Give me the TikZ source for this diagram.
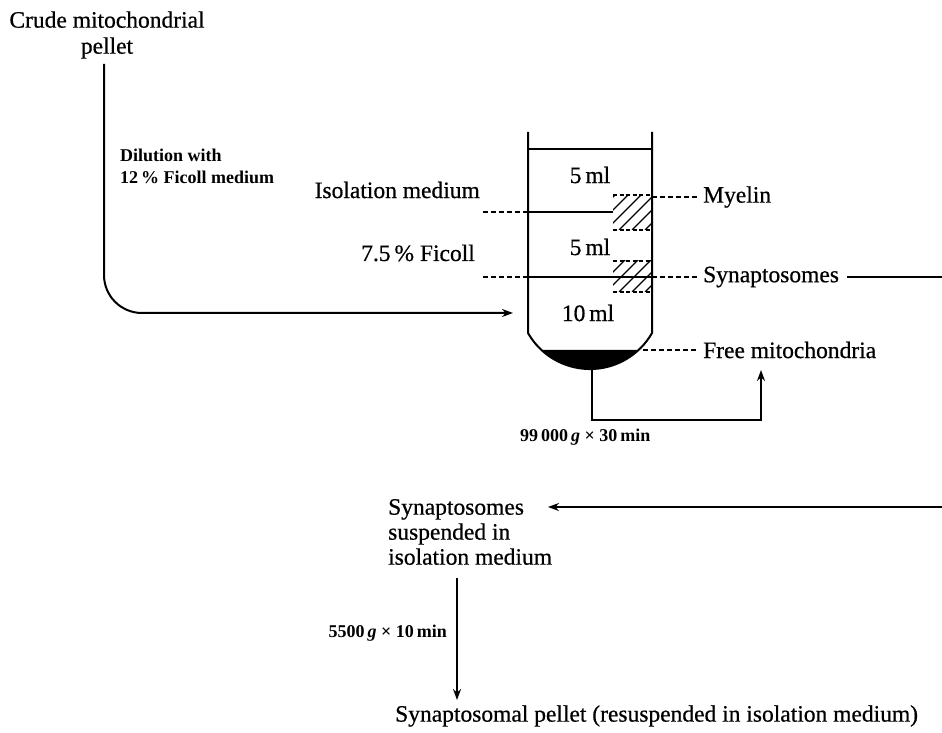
\documentclass[tikz,border=0pt]{standalone}
\usepackage{fontspec}
\setmainfont{Liberation Serif}
\newfontfamily\heavy{Liberation Serif}[FakeBold=0.6]
\usetikzlibrary{arrows.meta}
\begin{document}
\begin{tikzpicture}[x=1pt,y=1pt,
  lbl/.style={font=\heavy\fontsize{23.5}{26}\selectfont, inner sep=0pt},
  sml/.style={font=\fontsize{18}{22}\selectfont\bfseries, inner sep=0pt},
  ln/.style={line width=2pt},
  dsh/.style={line width=1.5pt, dash pattern=on 5pt off 3pt},
  hdsh/.style={line width=1.4pt, dash pattern=on 4pt off 2.5pt},
  hat/.style={line width=1.4pt},
  arr/.style={ln, -{Stealth[length=11pt,width=8pt]}}]
\useasboundingbox (0,0) rectangle (942,733);

% texts
\node[lbl, align=center] (crude) at (107,698) {Crude mitochondrial\\pellet};
\node[sml, align=left, anchor=west] (dil) at (120,567) {Dilution with\\12\,\% Ficoll medium};
\node[lbl, anchor=east] (iso) at (480,543) {Isolation medium};
\node[lbl, anchor=east] (fic) at (475,480) {7.5\,\% Ficoll};
\node[lbl] (v1) at (590,558) {5\,ml};
\node[lbl] (v2) at (590,486) {5\,ml};
\node[lbl] (v3) at (588,420) {10\,ml};
\node[lbl, anchor=west] (myelin) at (703,536) {Myelin};
\node[lbl, anchor=west] (syn) at (703,456) {Synaptosomes};
\node[lbl, anchor=west] (free) at (703,383) {Free mitochondria};
\node[sml, anchor=west] (g1) at (520,296) {99\,000\,\textit{g} × 30\,min};
\node[lbl, align=left, anchor=west, font=\heavy\fontsize{23.5}{25}\selectfont] (susp) at (388,201) {Synaptosomes\\suspended in\\isolation medium};
\node[sml, anchor=east] (g2) at (447,100) {5500\,\textit{g} × 10\,min};
\node[lbl, anchor=west] (final) at (395,17) {Synaptosomal pellet (resuspended in isolation medium)};

% coordinates
\coordinate (cstart) at (104,669);
\coordinate (tubein) at (513,420);
\coordinate (pb) at (592,364);
\coordinate (fmtip) at (761,363);
\coordinate (redge1) at (942,456);
\coordinate (redge2) at (942,226);
\coordinate (stip) at (548,226);
\coordinate (vstart) at (457,155);
\coordinate (vend) at (457,33);

% tube
\draw[ln] (528,601) -- (528,400) arc[start angle=209.7, end angle=330.3, radius=71.4] -- (652,601);
\draw[ln] (528,584) -- (652,584);
\fill (541.5,383) arc[start angle=227.2, end angle=312.8, radius=71.4] -- cycle;

% interfaces
\draw[dsh] (483,521) -- (528,521);
\draw[ln] (528,521) -- (613,521);
\draw[dsh] (483,456) -- (528,456);
\draw[ln] (528,456) -- (652,456);

% hatched bands
\foreach \ya/\yb in {503/538, 441/472}{
  \draw[hdsh] (613,\yb) -- (652,\yb);
  \draw[hdsh] (613,\ya) -- (652,\ya);
  \begin{scope}
    \clip (613,\ya) rectangle (652,\yb);
    \foreach \s in {580,593,...,660}{
      \draw[hat] (\s,\ya) -- ++(40,40);
    }
  \end{scope}
}

% label leaders
\draw[dsh] (652,536) -- ([xshift=-5pt]myelin.west);
\draw[dsh] (652,456) -- ([xshift=-5pt]syn.west);
\draw[dsh] (643,383) -- ([xshift=-5pt]free.west);

% connectors
\draw[arr, rounded corners=38pt] (cstart) |- (tubein);
\draw[arr] (pb) |- (761,313) -- (fmtip);
\draw[ln] ([xshift=8pt]syn.east) -- (redge1);
\draw[arr] (redge2) -- (stip);
\draw[arr] (vstart) -- (vend);
\end{tikzpicture}
\end{document}
